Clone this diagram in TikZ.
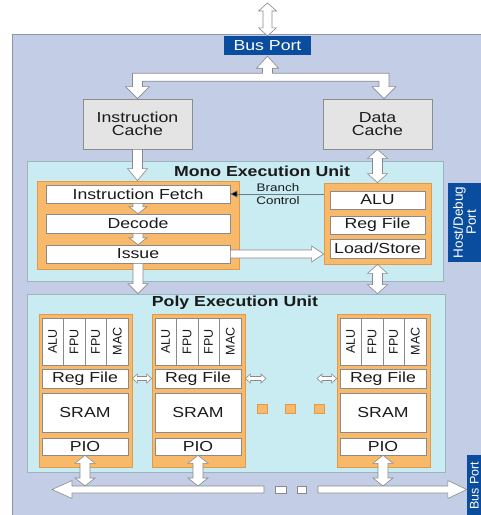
\documentclass[tikz,border=0pt]{standalone}
\usepackage{fontspec}
\usepackage{graphicx}
\setmainfont{Liberation Sans}[FakeStretch=1.22]
\newfontfamily\rotfont{Liberation Sans}
\usetikzlibrary{calc,arrows.meta}
\definecolor{bgblue}{HTML}{C3CDE6}
\definecolor{outerborder}{HTML}{8C93A8}
\definecolor{cyanfill}{HTML}{C9EBF2}
\definecolor{unitborder}{HTML}{9DB4BD}
\definecolor{orangefill}{HTML}{F9B96A}
\definecolor{orangedark}{HTML}{E09A48}
\definecolor{portblue}{HTML}{0A4D9E}
\definecolor{cachefill}{HTML}{E4E4E4}
\definecolor{cachegray}{HTML}{8C8C8C}
\definecolor{cellgray}{HTML}{8A8A8A}
\definecolor{arrgray}{HTML}{8A8A8A}
\definecolor{txt}{HTML}{1A1A1A}
\definecolor{branchline}{HTML}{6B7B8A}
% box from pixel corners (x1,y1)-(x2,y2)
\newcommand{\diabox}[7]{\node[#6, minimum width={((#4)-(#2))*1pt}, minimum height={((#5)-(#3))*1pt}] (#1) at ({((#2)+(#4))/2},{((#3)+(#5))/2}) {#7};}
% vertical double fat arrow: #1 top tip, #2 bottom tip
\newcommand{\vdar}[5]{\draw[fatarrow] let \p1=#1, \p2=#2 in
 (\x1,\y1) -- (\x1+#4,\y1-#5) -- (\x1+#3,\y1-#5) -- (\x1+#3,\y2+#5) -- (\x1+#4,\y2+#5) -- (\x1,\y2)
 -- (\x1-#4,\y2+#5) -- (\x1-#3,\y2+#5) -- (\x1-#3,\y1-#5) -- (\x1-#4,\y1-#5) -- cycle;}
% vertical single fat arrow down: #1 tail, #2 tip
\newcommand{\vsar}[5]{\draw[fatarrow] let \p1=#1, \p2=#2 in
 (\x1-#3,\y1) -- (\x1+#3,\y1) -- (\x1+#3,\y2+#5) -- (\x1+#4,\y2+#5) -- (\x1,\y2)
 -- (\x1-#4,\y2+#5) -- (\x1-#3,\y2+#5) -- cycle;}
% horizontal double fat arrow: #1 left tip, #2 right tip
\newcommand{\hdar}[5]{\draw[fatarrow] let \p1=#1, \p2=#2 in
 (\x1,\y1) -- (\x1+#5,\y1+#4) -- (\x1+#5,\y1+#3) -- (\x2-#5,\y1+#3) -- (\x2-#5,\y1+#4) -- (\x2,\y1)
 -- (\x2-#5,\y1-#4) -- (\x2-#5,\y1-#3) -- (\x1+#5,\y1-#3) -- (\x1+#5,\y1-#4) -- cycle;}
% horizontal fat arrow pointing right: #1 tail, #2 tip
\newcommand{\hrar}[5]{\draw[fatarrow] let \p1=#1, \p2=#2 in
 (\x1,\y1+#3) -- (\x2-#5,\y1+#3) -- (\x2-#5,\y1+#4) -- (\x2,\y1) -- (\x2-#5,\y1-#4) -- (\x2-#5,\y1-#3) -- (\x1,\y1-#3) -- cycle;}
% horizontal fat arrow pointing left: #1 tip, #2 tail
\newcommand{\hlar}[5]{\draw[fatarrow] let \p1=#1, \p2=#2 in
 (\x2,\y1+#3) -- (\x1+#5,\y1+#3) -- (\x1+#5,\y1+#4) -- (\x1,\y1) -- (\x1+#5,\y1-#4) -- (\x1+#5,\y1-#3) -- (\x2,\y1-#3) -- cycle;}
\begin{document}
\begin{tikzpicture}[x=1pt,y=-1pt, font=\fontsize{14.5}{15.5}\selectfont,
  cell/.style={draw=cellgray, fill=white, line width=0.6pt, inner sep=0pt, text=txt},
  orangebox/.style={draw=orangedark, fill=orangefill, line width=0.8pt, inner sep=0pt},
  unitbox/.style={draw=unitborder, fill=cyanfill, line width=0.7pt, inner sep=0pt},
  cachebox/.style={draw=cachegray, fill=cachefill, line width=0.8pt, inner sep=0pt, align=center, text=txt, font=\fontsize{14.5}{13.5}\selectfont},
  portbox/.style={fill=portblue, inner sep=0pt, text=white},
  fatarrow/.style={draw=arrgray, fill=white, line width=0.6pt, line join=miter},
  unittitle/.style={font=\fontsize{14.5}{15}\selectfont\bfseries, text=txt, inner sep=0pt},
]
\useasboundingbox (0,0) rectangle (481,515);
\clip (0,0) rectangle (481,515);
% outer chip area
\diabox{chip}{12}{34}{500}{530}{draw=outerborder, fill=bgblue, line width=0.7pt, inner sep=0pt}{}
% ports
\diabox{bp}{224}{36}{311}{55}{portbox}{Bus Port}
\node[portbox, rotate=90, minimum width=79pt, minimum height=33pt, align=center,
      font=\rotfont\fontsize{13.5}{12}\selectfont] (hdp) at (464.5,222.5) {Host/Debug\\Port};
\node[portbox, rotate=90, minimum width=62pt, minimum height=15pt, align=center,
      font=\rotfont\fontsize{12.5}{12}\selectfont] (bbp) at (474.5,486) {Bus Port};
% caches
\diabox{ic}{83}{99}{192}{149}{cachebox}{Instruction\\Cache}
\diabox{dc}{323}{99}{432}{149}{cachebox}{Data\\Cache}
% mono execution unit
\diabox{meu}{27}{161}{443}{281}{unitbox}{}
\node[unittitle] (meut) at (262,171) {Mono Execution Unit};
\diabox{lo}{37}{181}{239}{269}{orangebox}{}
\diabox{if}{46}{185}{230}{203}{cell}{Instruction Fetch}
\diabox{dec}{46}{214}{230}{233}{cell}{Decode}
\diabox{iss}{46}{245}{230}{263}{cell}{Issue}
\diabox{ro}{324}{183}{431}{264}{orangebox}{}
\diabox{alu}{330}{191}{425}{209}{cell}{ALU}
\diabox{rf}{330}{216}{425}{234}{cell}{Reg File}
\diabox{ls}{330}{239}{425}{258}{cell}{Load/Store}
% poly execution unit
\diabox{pu}{27}{294}{445}{472}{unitbox}{}
\node[unittitle] (put) at (235,303) {Poly Execution Unit};
\foreach \L/\k in {39/1,152/2,337/3}{
  \diabox{o\k}{\L}{314}{\L+93}{467}{orangebox}{}
  \diabox{fa\k}{\L+3}{318}{\L+24.5}{365}{cell}{\rotatebox{90}{\rotfont\fontsize{12.5}{12}\selectfont ALU}}
  \diabox{fb\k}{\L+24.5}{318}{\L+46}{365}{cell}{\rotatebox{90}{\rotfont\fontsize{12.5}{12}\selectfont FPU}}
  \diabox{fc\k}{\L+46}{318}{\L+67.5}{365}{cell}{\rotatebox{90}{\rotfont\fontsize{12.5}{12}\selectfont FPU}}
  \diabox{fd\k}{\L+67.5}{318}{\L+89}{365}{cell}{\rotatebox{90}{\rotfont\fontsize{12.5}{12}\selectfont MAC}}
  \diabox{r\k}{\L+3}{369}{\L+89}{388}{cell}{Reg File}
  \diabox{s\k}{\L+3}{393}{\L+89}{432}{cell}{SRAM}
  \diabox{p\k}{\L+3}{438}{\L+89}{455}{cell}{PIO}
}
\diabox{sq1}{257}{404}{267}{413}{orangebox}{}
\diabox{sq2}{285.5}{404}{295.5}{413}{orangebox}{}
\diabox{sq3}{314}{404}{324}{413}{orangebox}{}
% coordinates for free ends
\coordinate (topend) at (268,3);
\coordinate (ra) at (266,378.5);
\coordinate (rb) at (317,378.5);
\coordinate (bustop) at (0,486);
\coordinate (busL) at (52,489.5);
\coordinate (gapL) at (264,489.5);
\coordinate (gapR) at (318,489.5);
% bus port top connection
\vdar{(bp.north |- topend)}{(bp.north)}{4.5pt}{9pt}{8pt}
\draw[fatarrow] let \p1=(bp.south), \p2=(ic.north), \p3=([xshift=6.5pt]dc.north) in
 (\x2-5pt,\y1-18pt) -- (\x1-5pt,\y1-18pt) -- (\x1-5pt,\y1-13pt) -- (\x1-11pt,\y1-13pt) -- (\x1,\y1-1pt)
 -- (\x1+11pt,\y1-13pt) -- (\x1+5pt,\y1-13pt) -- (\x1+5pt,\y1-18pt) -- (\x3+5pt,\y1-18pt)
 -- (\x3+5pt,\y2+12pt) -- (\x3+12pt,\y2+12pt) -- (\x3,\y2) -- (\x3-12pt,\y2+12pt) -- (\x3-5pt,\y2+12pt)
 -- (\x3-5pt,\y1-26pt) -- (\x2+5pt,\y1-26pt) -- (\x2+5pt,\y2+12pt) -- (\x2+12pt,\y2+12pt) -- (\x2,\y2)
 -- (\x2-12pt,\y2+12pt) -- (\x2-5pt,\y2+12pt) -- cycle;
% cache connections
\vsar{(ic.south)}{(ic.south |- lo.north)}{5pt}{10pt}{12pt}
\vdar{(dc.south)}{(dc.south |- ro.north)}{5pt}{10pt}{9pt}
% pipeline
\vsar{(if.south)}{(dec.north)}{5pt}{9pt}{7pt}
\vsar{(dec.south)}{(iss.north)}{5pt}{9pt}{7pt}
\hrar{(iss.east)}{(ro.west |- iss.east)}{4pt}{8pt}{12pt}
\draw[draw=branchline, line width=0.6pt, -{Triangle[length=7pt,width=7pt,fill=black]}] (ro.west |- if.east) -- (if.east);
\node[font=\fontsize{11}{12.5}\selectfont, align=center, text=txt, inner sep=0pt] (bc) at (278,194) {Branch\\Control};
% mono to poly
\vsar{(iss.south)}{(iss.south |- pu.north)}{5pt}{10pt}{10pt}
\vdar{(ro.south)}{(ro.south |- pu.north)}{5pt}{10pt}{9pt}
% neighbour links
\hdar{(o1.east |- r1.east)}{(o2.west |- r2.west)}{2pt}{4.5pt}{5pt}
\hdar{(o2.east |- r2.east)}{(ra)}{2pt}{4.5pt}{5pt}
\hdar{(rb)}{(o3.west |- r3.west)}{2pt}{4.5pt}{5pt}
% PIO to bus
\vdar{(p1.south)}{(p1.south |- bustop)}{5pt}{10pt}{8pt}
\vdar{(p2.south)}{(p2.south |- bustop)}{5pt}{10pt}{8pt}
\vdar{(p3.south)}{(p3.south |- bustop)}{5pt}{10pt}{8pt}
% bus
\hlar{(busL)}{(gapL)}{3.5pt}{9pt}{20pt}
\hrar{(gapR)}{(bbp.north |- busL)}{3.5pt}{9pt}{19pt}
\diabox{d1}{275}{486}{286}{493}{draw=arrgray, fill=white, line width=0.6pt, inner sep=0pt}{}
\diabox{d2}{297}{486}{306}{493}{draw=arrgray, fill=white, line width=0.6pt, inner sep=0pt}{}
\end{tikzpicture}
\end{document}
